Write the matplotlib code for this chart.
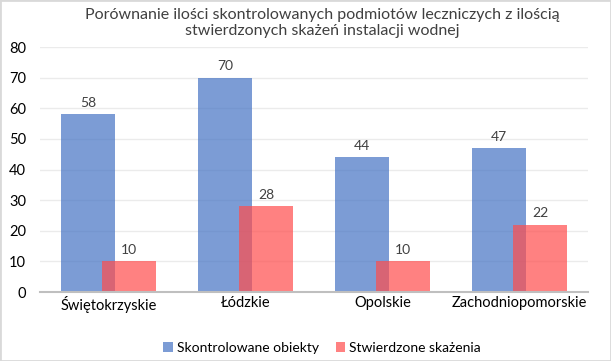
import matplotlib.pyplot as plt
from matplotlib.patches import Rectangle
import numpy as np

plt.rcParams['font.family'] = ['Lato', 'DejaVu Sans']

wojewodztwa = ['Świętokrzyskie', 'Łódzkie', 'Opolskie', 'Zachodniopomorskie']
skontrolowane = [58, 70, 44, 47]
skazenia = [10, 28, 10, 22]

fig = plt.figure(figsize=(6.11, 3.61), dpi=100)
ax = fig.add_axes([40/611, 1-292/361, 548/611, 245/361])

x = np.arange(len(wojewodztwa))
w = 0.395
off = 0.15
b1 = ax.bar(x - off, skontrolowane, w, color='#4472C4', alpha=0.7, label='Skontrolowane obiekty', zorder=2)
b2 = ax.bar(x + off, skazenia, w, color='#FF4D4D', alpha=0.71, label='Stwierdzone skażenia', zorder=3)

for bars in (b1, b2):
    ax.bar_label(bars, padding=4, fontsize=10, color='#404040')

ax.set_xlim(-0.5, len(wojewodztwa) - 0.5)
ax.set_ylim(0, 80)
ax.set_yticks(range(0, 81, 10))
ax.set_xticks(x)
ax.set_xticklabels(wojewodztwa, fontsize=10.5, color='black')
ax.tick_params(axis='y', labelsize=10.5, length=0, pad=10)
ax.tick_params(axis='x', length=0, pad=3)
ax.grid(axis='y', color='#ebebeb', linewidth=1, zorder=0)
for s in ['top', 'right', 'left']:
    ax.spines[s].set_visible(False)
ax.spines['bottom'].set_color('#bfbfbf')
ax.spines['bottom'].set_linewidth(1.5)
ax.spines['bottom'].set_zorder(4)

fig.text(322/611, 1-23/361, 'Porównanie ilości skontrolowanych podmiotów leczniczych z ilością\nstwierdzonych skażeń instalacji wodnej',
         ha='center', va='center', fontsize=11.5, color='#404040', linespacing=1.15)

fig.legend(loc='center', bbox_to_anchor=(322/611, 1-348/361), ncol=2, frameon=False,
           fontsize=10, handlelength=0.7, handleheight=0.7, handletextpad=0.3, columnspacing=1.2)

fig.patches.append(Rectangle((0, 0), 1, 1, transform=fig.transFigure, fill=False,
                             edgecolor='#d9d9d9', linewidth=2))

plt.savefig('out.png', dpi=100)
